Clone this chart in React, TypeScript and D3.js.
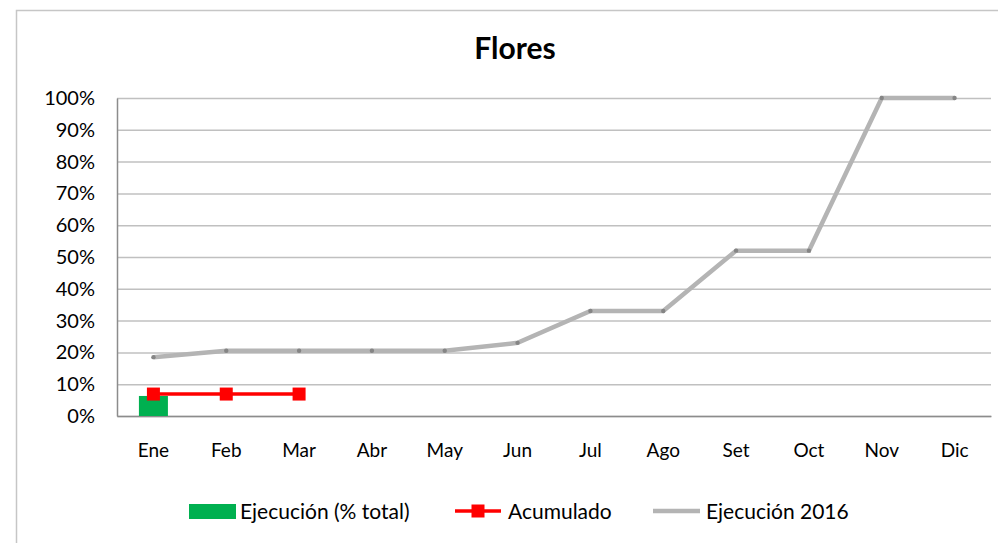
import React, { useEffect, useRef } from 'react';
import * as d3 from 'd3';

const months = ['Ene', 'Feb', 'Mar', 'Abr', 'May', 'Jun', 'Jul', 'Ago', 'Set', 'Oct', 'Nov', 'Dic'];
const ejecucion = [0.063];
const acumulado = [0.069, 0.069, 0.069];
const ejecucion2016 = [0.185, 0.205, 0.205, 0.205, 0.205, 0.23, 0.33, 0.33, 0.52, 0.52, 1.0, 1.0];
const yTicks = [0, 0.1, 0.2, 0.3, 0.4, 0.5, 0.6, 0.7, 0.8, 0.9, 1.0];

const FONT = 'Lato, "Open Sans", sans-serif';

export default function App() {
  const ref = useRef<SVGSVGElement | null>(null);

  useEffect(() => {
    const svg = d3.select(ref.current);
    svg.selectAll('*').remove();

    const width = 998;
    const height = 543;
    const margin = { top: 98, right: 7, bottom: 127, left: 117 };
    const innerW = width - margin.left - margin.right;
    const innerH = height - margin.top - margin.bottom;

    svg.append('rect').attr('width', width).attr('height', height).attr('fill', '#fff');

    // outer chart border (cut off at right and bottom)
    svg.append('rect')
      .attr('x', 16.5).attr('y', 10.5)
      .attr('width', width).attr('height', height)
      .attr('fill', 'none').attr('stroke', '#c6c6c6').attr('stroke-width', 1.5);

    svg.append('text')
      .attr('x', 515).attr('y', 59)
      .attr('text-anchor', 'middle')
      .attr('font-family', FONT).attr('font-weight', 700).attr('font-size', 30)
      .text('Flores');

    const g = svg.append('g').attr('transform', `translate(${margin.left},${margin.top})`);

    const x = d3.scaleBand<string>().domain(months).range([0, innerW]);
    const y = d3.scaleLinear().domain([0, 1]).range([innerH, 0]);

    // gridlines
    g.append('g')
      .call(d3.axisLeft(y).tickValues(yTicks).tickSize(-innerW).tickFormat(() => ''))
      .call(s => s.select('.domain').remove())
      .call(s => s.selectAll('line').attr('stroke', '#c0c0c0').attr('stroke-width', 1.5));

    // y axis
    const yAxis = g.append('g')
      .call(d3.axisLeft(y).tickValues(yTicks).tickSize(0).tickPadding(22).tickFormat(d3.format('.0%')));
    yAxis.select('.domain').attr('stroke', '#8c8c8c').attr('stroke-width', 1.5);
    yAxis.selectAll('text').attr('font-family', FONT).attr('font-size', 20).attr('fill', '#000');

    // x axis
    const xAxis = g.append('g')
      .attr('transform', `translate(0,${innerH})`)
      .call(d3.axisBottom(x).tickSize(0).tickPadding(28));
    xAxis.select('.domain').attr('stroke', '#8c8c8c').attr('stroke-width', 1.5);
    xAxis.selectAll('text').attr('font-family', FONT).attr('font-size', 19).attr('fill', '#000');

    const cx = (i: number) => (x(months[i]) ?? 0) + x.bandwidth() / 2;

    // bars
    const barW = 29;
    g.selectAll('rect.bar')
      .data(ejecucion)
      .enter()
      .append('rect')
      .attr('class', 'bar')
      .attr('x', (_, i) => cx(i) - barW / 2)
      .attr('y', d => y(d))
      .attr('width', barW)
      .attr('height', d => innerH - y(d))
      .attr('fill', '#00b050');

    // 2016 line
    const line = d3.line<number>().x((_, i) => cx(i)).y(d => y(d));
    g.append('path')
      .datum(ejecucion2016)
      .attr('fill', 'none')
      .attr('stroke', '#b4b4b4')
      .attr('stroke-width', 4.5)
      .attr('d', line);
    g.selectAll('circle.m16')
      .data(ejecucion2016)
      .enter()
      .append('circle')
      .attr('class', 'm16')
      .attr('cx', (_, i) => cx(i))
      .attr('cy', d => y(d))
      .attr('r', 2.2)
      .attr('fill', '#858585');

    // acumulado
    g.append('path')
      .datum(acumulado)
      .attr('fill', 'none')
      .attr('stroke', '#ff0000')
      .attr('stroke-width', 3.5)
      .attr('d', line);
    const ms = 13;
    g.selectAll('rect.acc')
      .data(acumulado)
      .enter()
      .append('rect')
      .attr('class', 'acc')
      .attr('x', (_, i) => cx(i) - ms / 2)
      .attr('y', d => y(d) - ms / 2)
      .attr('width', ms)
      .attr('height', ms)
      .attr('fill', '#ff0000');

    // legend
    const lg = svg.append('g').attr('font-family', FONT).attr('font-size', 21);
    const ly = 511;
    lg.append('rect').attr('x', 189).attr('y', ly - 7).attr('width', 47).attr('height', 15).attr('fill', '#00b050');
    lg.append('text').attr('x', 240).attr('y', ly + 8).text('Ejecución (% total)');

    lg.append('line').attr('x1', 455).attr('x2', 501).attr('y1', ly).attr('y2', ly)
      .attr('stroke', '#ff0000').attr('stroke-width', 3.5);
    lg.append('rect').attr('x', 478 - ms / 2).attr('y', ly - ms / 2).attr('width', ms).attr('height', ms).attr('fill', '#ff0000');
    lg.append('text').attr('x', 508).attr('y', ly + 8).text('Acumulado');

    lg.append('line').attr('x1', 653).attr('x2', 700).attr('y1', ly).attr('y2', ly)
      .attr('stroke', '#b4b4b4').attr('stroke-width', 4.5);
    lg.append('text').attr('x', 706).attr('y', ly + 8).text('Ejecución 2016');
  }, []);

  return (
    <svg
      ref={ref}
      width={998}
      height={543}
      style={{ position: 'absolute', left: 0, top: 0, display: 'block' }}
    />
  );
}
